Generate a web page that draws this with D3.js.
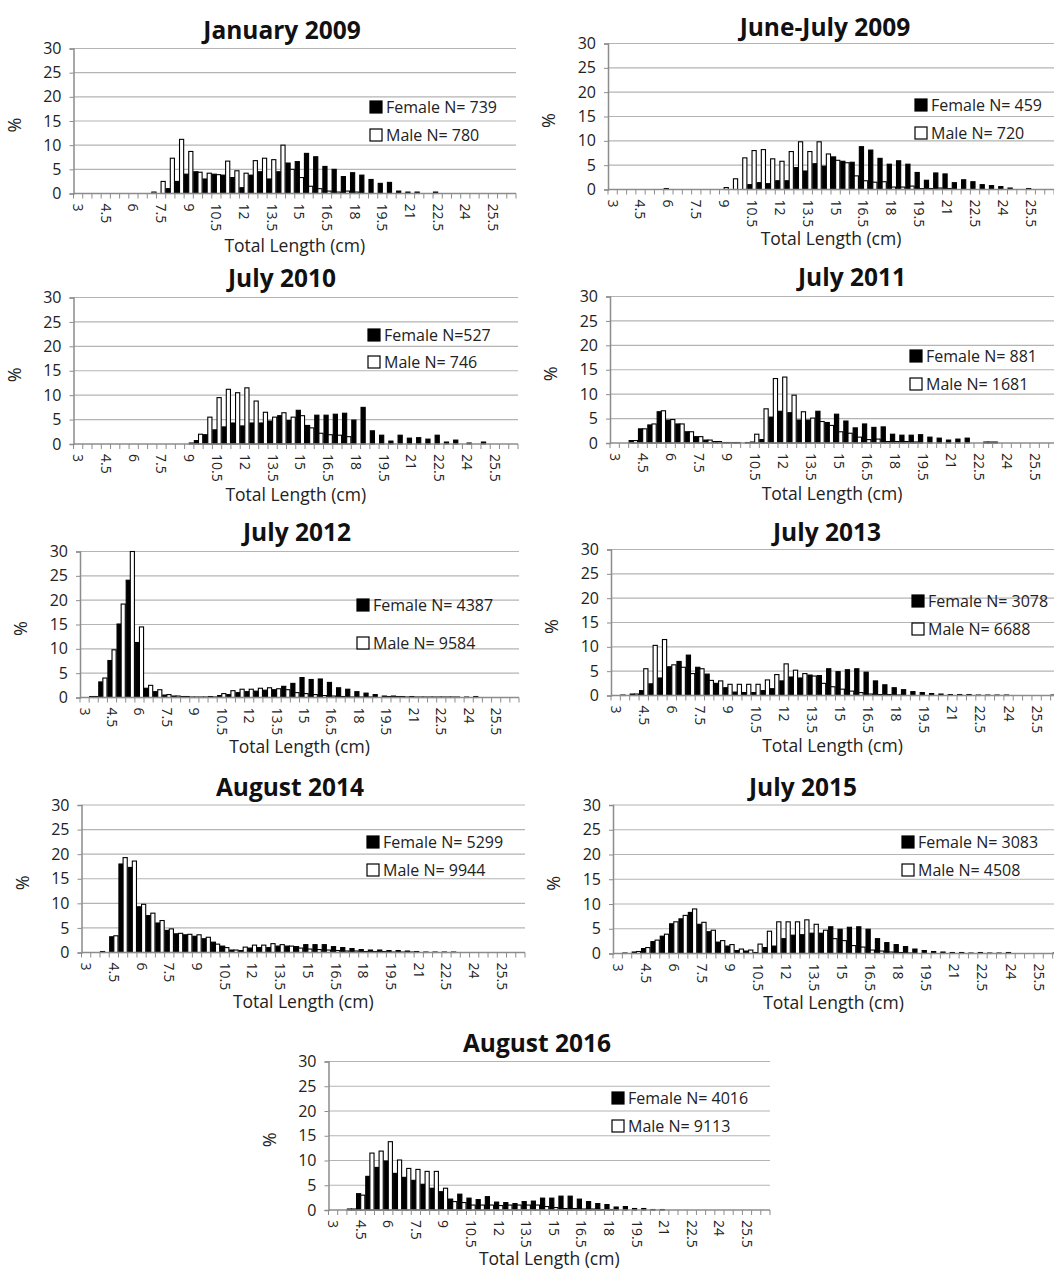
<!DOCTYPE html>
<html><head><meta charset="utf-8">
<script src="https://cdn.jsdelivr.net/npm/d3@7"></script>
<style>
body{margin:0;background:#fff;}
svg{display:block;font-family:"Open Sans",Lato,"Liberation Sans",sans-serif;}
</style></head><body>
<svg id="chart" width="1054" height="1272"></svg>
<script>
// ---- categories (Total Length, cm) ----
const categories = ["3","3.5","4","4.5","5","5.5","6","6.5","7","7.5","8","8.5","9","9.5","10","10.5",
  "11","11.5","12","12.5","13","13.5","14","14.5","15","15.5","16","16.5","17","17.5","18","18.5",
  "19","19.5","20","20.5","21","21.5","22","22.5","23","23.5","24","24.5","25","25.5","26","26.5"];
const tickLabels = ["3","4.5","6","7.5","9","10.5","12","13.5","15","16.5","18","19.5","21","22.5","24","25.5"];
const yTicks = [0,5,10,15,20,25,30];

// ---- series values (%) ----
const jan2009Female = [0,0,0,0,0,0,0,0, 0,0,1.0,2.5,4.0,4.5,3.0,4.0, 3.8,3.3,1.2,3.8,4.5,3.0,4.5,6.3, 6.6,8.3,7.6,5.6,5.0,3.5,4.3,3.8, 2.9,2.1,2.3,0.5,0.3,0.3,0,0.3, 0,0,0,0,0,0,0,0];
const jan2009Male   = [0,0,0,0,0,0,0,0, 0.3,2.5,7.3,11.2,8.7,4.4,4.2,3.9, 6.7,4.7,4.2,6.8,7.3,7.0,10.0,5.0, 3.3,1.5,1.0,0.5,0.3,0.5,0.3,0, 0,0,0,0,0,0,0,0, 0,0,0,0,0,0,0,0];
const jun2009Female = [0,0,0,0,0,0,0.2,0, 0,0,0,0,0,0,0,1.0, 1.4,1.2,1.8,1.8,4.5,3.8,5.3,4.8, 6.7,5.8,5.6,8.8,8.1,6.4,5.2,5.9, 5.2,3.5,1.9,3.4,3.2,1.4,2.0,1.6, 1.0,0.8,0.6,0.3,0,0.2,0,0];
const jun2009Male   = [0,0,0,0,0,0,0,0, 0,0,0,0,0.4,2.2,6.5,8.0, 8.2,6.3,5.8,7.8,9.8,7.8,9.8,7.3, 6.0,5.5,2.8,1.8,1.5,1.6,0.5,0.5, 0.7,0.2,0.2,0.3,0.2,0,0,0, 0,0,0,0,0,0,0,0];
const jul2010Female = [0,0,0,0,0,0,0,0, 0,0,0,0,0,0.7,1.9,2.9, 3.5,4.3,3.7,4.3,4.3,4.7,5.8,4.8, 6.9,3.8,5.9,5.9,6.1,6.3,4.9,7.5, 2.7,1.8,0.6,1.8,1.2,1.3,1.0,1.8, 0.4,0.8,0,0,0.4,0,0,0];
const jul2010Male   = [0,0,0,0,0,0,0,0, 0,0,0,0,0.2,2.0,5.5,9.5, 11.2,10.5,11.5,8.8,6.5,5.5,6.4,5.5, 5.8,3.3,2.2,1.9,1.8,1.5,0,0, 0,0,0,0,0,0,0,0, 0,0,0.2,0,0,0,0,0];
const jul2011Female = [0,0,0.5,2.9,3.7,6.4,4.7,3.9, 2.3,1.3,0.6,0.3,0.1,0.1,0,0.2, 0.7,5.3,6.5,6.2,4.7,4.7,6.5,4.2, 5.9,4.5,3.1,3.9,3.2,3.3,1.8,1.6, 1.6,1.7,1.2,1.0,0.6,0.8,1.0,0, 0.2,0.2,0,0,0,0,0,0];
const jul2011Male   = [0,0,0.5,2.9,3.9,6.6,4.8,3.9, 2.3,1.3,0.6,0.3,0.1,0.1,0.1,1.8, 7.0,13.2,13.5,9.8,6.4,5.1,4.4,3.6, 2.3,2.0,1.2,0.7,0.8,0.3,0.3,0.3, 0.2,0,0,0,0,0,0,0, 0.2,0,0,0,0,0,0,0];
const jul2012Female = [0,0.2,3.2,7.6,15.1,24.1,11.3,1.9, 1.2,0.5,0.3,0.2,0.1,0.1,0.2,0.4, 0.6,1.0,1.2,1.3,1.5,1.6,2.3,2.9, 4.1,3.7,3.8,3.1,2.0,1.7,1.2,0.9, 0.6,0.3,0.3,0.2,0.2,0.1,0.1,0.1, 0.1,0.1,0.1,0.2,0,0,0,0];
const jul2012Male   = [0,0.2,4.0,9.8,19.2,30,14.5,2.5, 1.6,0.6,0.3,0.2,0.1,0.1,0.1,0.8, 1.4,1.7,1.7,1.9,2.0,1.8,1.6,1.0, 0.8,0.6,0.4,0.3,0.2,0.1,0.1,0.1, 0,0.2,0.2,0.1,0.1,0.1,0.1,0.1, 0.1,0,0,0,0,0,0,0];
const jul2013Female = [0,0.1,0.3,1.0,2.4,3.6,5.9,7.0, 8.3,5.8,4.4,2.5,1.6,0.7,0.6,0.6, 1.0,1.4,3.0,3.8,3.6,4.2,4.1,5.5, 4.9,5.3,5.5,4.8,3.0,2.2,1.6,1.2, 0.8,0.6,0.4,0.3,0.2,0.2,0.2,0.1, 0.1,0.1,0.1,0,0,0,0,0.1];
const jul2013Male   = [0,0,0.3,5.5,10.3,11.5,6.3,5.8, 4.5,5.5,3.1,3.0,2.3,2.3,2.3,2.3, 3.2,4.3,6.5,5.2,4.5,4.0,2.5,1.8, 1.3,0.9,0.6,0.3,0.2,0.2,0.1,0, 0,0,0,0,0,0,0,0, 0,0,0,0,0,0,0,0];
const aug2014Female = [0,0,0.2,3.2,18.0,17.3,9.3,7.5, 6.0,4.5,3.8,3.6,3.3,2.8,2.1,1.3, 0.5,0.4,0.9,1.0,1.0,1.3,1.3,1.2, 1.6,1.6,1.6,1.2,1.0,0.8,0.6,0.5, 0.5,0.4,0.4,0.3,0.2,0.1,0.1,0.1, 0.1,0,0,0,0,0,0,0];
const aug2014Male   = [0,0,0,3.4,19.3,18.6,9.8,8.0, 6.5,4.8,3.9,3.7,3.6,3.1,1.7,1.0, 0.5,1.1,1.5,1.5,1.8,1.6,1.3,0.9, 0.7,0.6,0.5,0.4,0.3,0.3,0.2,0.2, 0.2,0.1,0.1,0.1,0,0,0,0, 0,0,0,0,0,0,0,0];
const jul2015Female = [0,0.1,0.3,1.0,2.4,3.5,6.0,7.0, 8.3,5.9,4.4,2.3,1.5,0.6,0.5,0.2, 1.2,1.5,3.0,3.7,3.8,4.1,4.1,5.4, 4.9,5.3,5.4,4.9,3.0,2.2,1.8,1.4, 0.9,0.6,0.4,0.3,0.2,0.2,0.1,0.2, 0.1,0.1,0.2,0,0,0,0,0.1];
const jul2015Male   = [0,0,0.4,1.2,2.7,3.9,6.4,7.7, 9.0,6.3,4.7,2.6,1.8,0.9,0.7,1.9, 4.5,6.4,6.4,6.4,6.8,5.9,4.7,3.0, 2.6,1.6,1.3,0.7,0.5,0.3,0.2,0.1, 0,0,0,0,0,0,0,0, 0,0,0,0,0,0,0,0];
const aug2016Female = [0,0,0.2,3.3,6.8,8.6,9.9,7.4, 6.6,6.0,5.2,4.4,3.7,2.2,3.2,2.4, 2.1,2.7,1.6,1.5,1.3,1.7,1.8,2.4, 2.4,2.8,2.8,2.2,1.7,1.3,1.1,0.6, 0.7,0.3,0.3,0.1,0.1,0,0,0, 0,0,0,0,0,0,0,0];
const aug2016Male   = [0,0,0.2,3.0,11.5,11.9,13.8,10.1, 8.4,8.2,7.8,7.8,4.4,1.7,1.5,1.0, 1.0,1.0,0.9,1.0,1.0,1.0,1.0,0.7, 0.5,0.3,0.3,0.2,0.2,0.1,0.1,0, 0,0,0,0,0,0,0,0, 0,0,0,0,0,0,0,0];

const titles = ["January 2009","June-July 2009","July 2010","July 2011","July 2012","July 2013","August 2014","July 2015","August 2016"];
const femaleLabels = ["Female N= 739","Female N= 459","Female N=527","Female N= 881","Female N= 4387","Female N= 3078","Female N= 5299","Female N= 3083","Female N= 4016"];
const maleLabels = ["Male N= 780","Male N= 720","Male N= 746","Male N= 1681","Male N= 9584","Male N= 6688","Male N= 9944","Male N= 4508","Male N= 9113"];
const femaleSeries = [jan2009Female,jun2009Female,jul2010Female,jul2011Female,jul2012Female,jul2013Female,aug2014Female,jul2015Female,aug2016Female];
const maleSeries = [jan2009Male,jun2009Male,jul2010Male,jul2011Male,jul2012Male,jul2013Male,aug2014Male,jul2015Male,aug2016Male];

// ---- layout (pixels) ----
const layout = [
  {l:73.5, r:516, t:48.5, b:193.5, tx:282, ty:30, lx:370, ly1:107, ly2:135, ay:252},
  {l:608, r:1054, t:43.5, b:189.5, tx:825, ty:27, lx:915, ly1:105, ly2:133, ay:245},
  {l:73.5, r:518, t:297.5, b:444, tx:282, ty:278, lx:368, ly1:335, ly2:362, ay:501},
  {l:610, r:1058, t:296.5, b:443, tx:852, ty:277, lx:910, ly1:356, ly2:384, ay:500},
  {l:80, r:519, t:551.5, b:697.5, tx:297, ty:532, lx:357, ly1:605, ly2:643, ay:753},
  {l:611, r:1060, t:549.5, b:695.5, tx:827, ty:532, lx:912, ly1:601, ly2:629, ay:752},
  {l:81.5, r:525, t:805, b:952.5, tx:290, ty:787, lx:367, ly1:842, ly2:870, ay:1008},
  {l:613, r:1062, t:805, b:953.5, tx:803, ty:787, lx:902, ly1:842, ly2:870, ay:1009},
  {l:328.5, r:770, t:1061.5, b:1210, tx:537, ty:1043, lx:612, ly1:1098, ly2:1126, ay:1265}
];

const svg = d3.select("#chart");
svg.append("rect").attr("width",1054).attr("height",1272).attr("fill","#fff");

layout.forEach((L, p) => {
  const g = svg.append("g");
  const x = d3.scaleBand().domain(categories).range([L.l, L.r]).paddingInner(0.1).paddingOuter(0.05);
  const sub = d3.scaleBand().domain(["F","M"]).range([0, x.bandwidth()]);
  const y = d3.scaleLinear().domain([0,30]).range([L.b, L.t]);

  // gridlines
  g.append("g").selectAll("line").data(yTicks.filter(v=>v>0)).join("line")
    .attr("x1", L.l).attr("x2", L.r).attr("y1", d=>y(d)).attr("y2", d=>y(d))
    .attr("stroke","#b4b4b4").attr("stroke-width",1.2);

  // y axis
  const ya = g.append("g").attr("transform",`translate(${L.l},0)`)
    .call(d3.axisLeft(y).tickValues(yTicks).tickSize(4).tickPadding(8));
  ya.select(".domain").attr("stroke","#8c8c8c").attr("stroke-width",1.5);
  ya.selectAll(".tick line").attr("stroke","#8c8c8c");
  ya.selectAll("text").attr("font-size",16).attr("fill","#222").attr("font-family","'Open Sans',sans-serif");

  // bars
  const rows = categories.map((c,i)=>({c, F: femaleSeries[p][i], M: maleSeries[p][i]}));
  const bars = g.append("g");
  rows.forEach(r => {
    ["F","M"].forEach(k => {
      if (r[k] > 0) {
        bars.append("rect")
          .attr("x", x(r.c) + sub(k))
          .attr("width", sub.bandwidth())
          .attr("y", y(r[k]))
          .attr("height", Math.max(0.5, y(0) - y(r[k])))
          .attr("fill", k === "F" ? "#000" : "#fff")
          .attr("stroke", "#000").attr("stroke-width", 1.1);
      }
    });
  });

  // x axis
  const xa = g.append("g").attr("transform",`translate(0,${L.b})`)
    .call(d3.axisBottom(x).tickSize(0).tickFormat(d => tickLabels.includes(d) ? d : ""));
  xa.select(".domain").remove();
  g.append("line").attr("x1",L.l).attr("x2",L.r).attr("y1",L.b).attr("y2",L.b)
    .attr("stroke","#8c8c8c").attr("stroke-width",1.5);
  const step = x.step();
  g.append("g").selectAll("line").data(d3.range(categories.length+1)).join("line")
    .attr("x1", i => L.l + i*step).attr("x2", i => L.l + i*step)
    .attr("y1", L.b).attr("y2", L.b + 5)
    .attr("stroke","#8c8c8c").attr("stroke-width",1);
  xa.selectAll(".tick text")
    .attr("transform","rotate(90)")
    .attr("x", 10).attr("y", 0).attr("dy","0.36em")
    .attr("text-anchor","start")
    .attr("font-size",14).attr("fill","#222").attr("font-family","'Open Sans',sans-serif");

  // axis titles
  g.append("text").attr("x",(L.l+Math.min(L.r,1054))/2 ).attr("y",L.ay)
    .attr("text-anchor","middle").attr("font-size",17.5).attr("fill","#222").text("Total Length (cm)");
  g.append("text").attr("transform",`translate(${L.l-53},${(L.t+L.b)/2+4}) rotate(-90)`)
    .attr("text-anchor","middle").attr("font-size",18).attr("fill","#222").text("%");

  // title
  g.append("text").attr("x",L.tx).attr("y",L.ty+9).attr("text-anchor","middle")
    .attr("font-size",24.5).attr("font-weight","bold").attr("fill","#111").text(titles[p]);

  // legend
  const lg = g.append("g");
  [[L.ly1,"#000",femaleLabels[p]],[L.ly2,"#fff",maleLabels[p]]].forEach(([ly,fill,label]) => {
    lg.append("rect").attr("x",L.lx).attr("y",ly-6).attr("width",12).attr("height",12)
      .attr("fill",fill).attr("stroke","#000").attr("stroke-width",1.2);
    lg.append("text").attr("x",L.lx+16).attr("y",ly).attr("dy","0.36em")
      .attr("font-size",16).attr("fill","#222").text(label);
  });
});
</script>
</body></html>
